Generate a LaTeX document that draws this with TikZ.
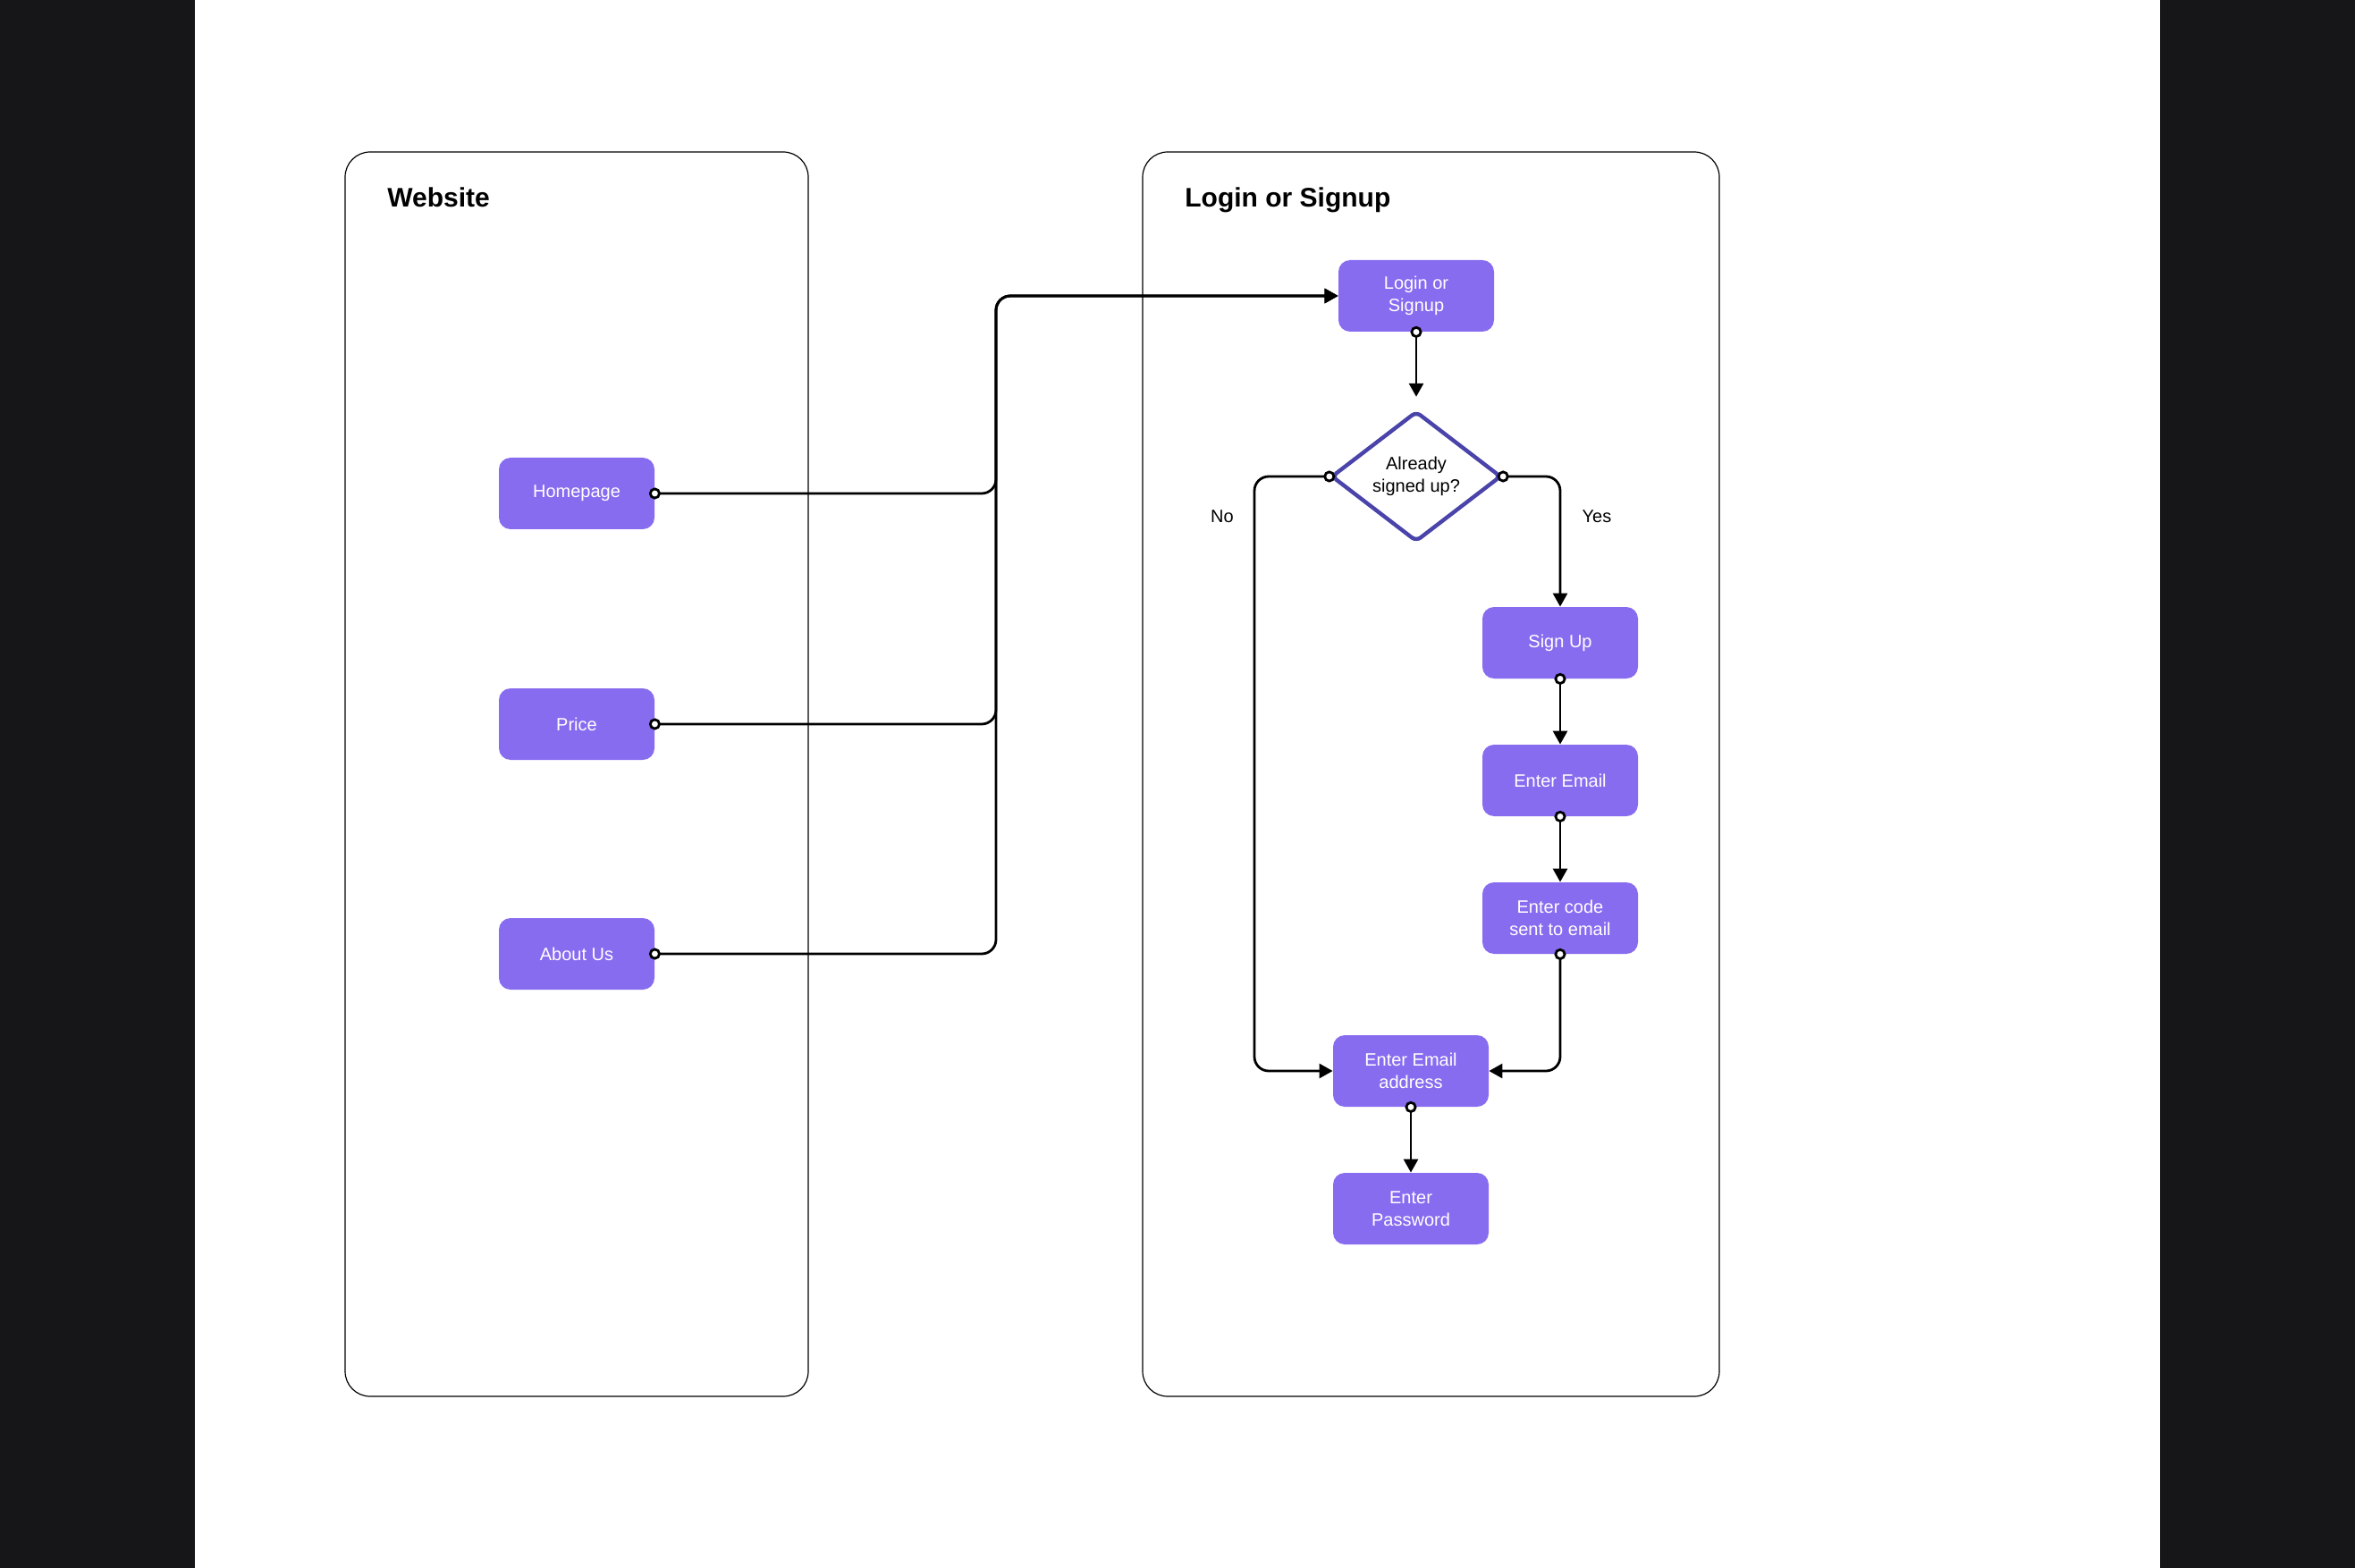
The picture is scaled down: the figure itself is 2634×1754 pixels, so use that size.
\documentclass[tikz,border=0pt]{standalone}
\usepackage{fontspec}
\setmainfont{Liberation Sans}
\usetikzlibrary{arrows.meta,shapes.geometric}
\definecolor{darkbg}{RGB}{22,22,24}
\definecolor{nodefill}{RGB}{136,108,240}
\definecolor{diacol}{RGB}{73,67,170}
\tikzset{
  box/.style={draw=black, line width=0.6pt, rounded corners=14pt},
  title/.style={anchor=base west, inner sep=0pt, font=\fontsize{15}{18}\selectfont\bfseries},
  stepbox/.style={fill=nodefill, text=white, rounded corners=6.5pt, minimum width=87pt, minimum height=40pt, inner sep=0pt, align=center, font=\fontsize{10}{12.5}\selectfont},
  decision/.style={shape=diamond, draw=diacol, line width=2.2pt, fill=white, minimum width=95pt, minimum height=73pt, aspect=1.3, inner sep=0pt, rounded corners=3pt, align=center, font=\fontsize{10}{12.5}\selectfont},
  lab/.style={font=\fontsize{10}{12}\selectfont, inner sep=0pt},
  conn/.style={line width=1.4pt, rounded corners=8pt, {Circle[fill=white,length=6.5pt,width=6.5pt]}-{Triangle[length=7.5pt,width=8pt]}, shorten <=-3.25pt}
}
\begin{document}
\begin{tikzpicture}[x=0.5pt,y=-0.5pt]
\useasboundingbox (0,0) rectangle (2634,1754);
\fill[darkbg] (0,0) rectangle (2634,1754);
\fill[white] (218,0) rectangle (2416,1754);
% containers
\draw[box] (386,170) rectangle (904,1562);
\draw[box] (1278,170) rectangle (1923,1562);
\node[title] (t1) at (433,232) {Website};
\node[title] (t2) at (1325,232) {Login or Signup};
% website nodes
\node[stepbox] (home) at (645,552) {Homepage};
\node[stepbox] (price) at (645,810) {Price};
\node[stepbox] (about) at (645,1067) {About Us};
% login flow
\node[stepbox] (login) at (1584,331) {Login or\\Signup};
\node[decision] (dia) at (1584,533) {Already\\signed up?};
\node[stepbox] (signup) at (1745,719) {Sign Up};
\node[stepbox] (email) at (1745,873) {Enter Email};
\node[stepbox] (code) at (1745,1027) {Enter code\\sent to email};
\node[stepbox] (eea) at (1578,1198) {Enter Email\\address};
\node[stepbox] (pwd) at (1578,1352) {Enter\\Password};
\node[lab] (nolab) at (1367,578) {No};
\node[lab] (yeslab) at (1786,578) {Yes};
\coordinate (bus) at (1114,0);
\coordinate (noX) at (1403,0);
% connectors
\draw[conn] (home.east) -- (home.east -| bus) |- (login.west);
\draw[conn] (price.east) -- (price.east -| bus) |- (login.west);
\draw[conn] (about.east) -- (about.east -| bus) |- (login.west);
\draw[conn, shorten >=7pt] (login.south) -- (dia.north);
\draw[conn] (dia.west) -- (dia.west -| noX) |- (eea.west);
\draw[conn] (dia.east) -| (signup.north);
\draw[conn] (signup.south) -- (email.north);
\draw[conn] (email.south) -- (code.north);
\draw[conn] (code.south) |- (eea.east);
\draw[conn] (eea.south) -- (pwd.north);
\end{tikzpicture}
\end{document}
